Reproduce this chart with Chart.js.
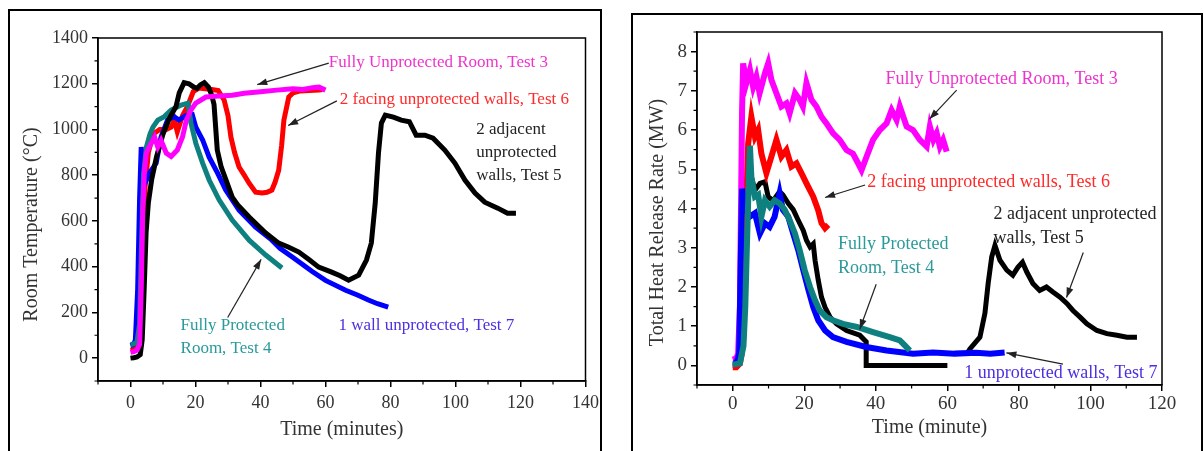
<!DOCTYPE html>
<html><head><meta charset="utf-8">
<script src="https://cdn.jsdelivr.net/npm/chart.js@4.4.0/dist/chart.umd.min.js"></script>
<style>
body{margin:0;background:#fff;width:1204px;height:451px;overflow:hidden;position:relative;font-family:"Liberation Serif",serif}
.frame{position:absolute;border:2px solid #000;box-sizing:border-box}
#f1{left:8px;top:9px;width:594px;height:470px}
#f2{left:631px;top:13px;width:572px;height:470px}
#c1{position:absolute;left:0;top:0;width:604px;height:451px}
#c2{position:absolute;left:604px;top:0;width:600px;height:451px}
</style></head><body>
<div class="frame" id="f1"></div><div class="frame" id="f2"></div>
<canvas id="c1" width="604" height="451"></canvas>
<canvas id="c2" width="600" height="451"></canvas>
<script>
// ---------- LEFT PANEL: Room temperature (°C) vs time (minutes) ----------
const leftXTicks = [0,20,40,60,80,100,120,140];
const leftYTicks = [0,200,400,600,800,1000,1200,1400];

const tempTimeT3 = [0,1,2,2.8,3.3,3.8,4.3,4.9,6,7.4,8.4,9.4,11,12.5,14.4,16,17.2,18.6,20.1,23.2,26,31.3,35,40,45,50,53,56,58,60];
const tempT3     = [25,28,35,60,300,650,820,897,930,967,923,952,897,882,910,967,1041,1085,1115,1142,1145,1150,1158,1165,1172,1178,1175,1182,1185,1172];

const tempTimeT5 = [0,1,2,3,3.6,4.2,4.8,5.5,6.5,8,10,12,14,15,16.5,18,19.5,20.5,21.5,22.7,24,25,25.7,26.7,27.9,29.4,31.3,33,36.5,41.6,45.6,48.7,51.8,55,57.9,61.9,64.5,67.1,70.2,72.6,74.1,75.3,76.3,77.2,78.4,80.9,83.3,85.8,87.9,90.6,93.1,96.7,99.8,102.9,106,109,113,116,118.6];
const tempT5     = [0,2,5,15,80,300,550,680,780,880,980,1050,1100,1160,1205,1200,1185,1180,1195,1205,1185,1150,1110,910,836,779,704,670,617,547,503,485,464,430,398,376,360,341,363,429,503,678,897,1028,1063,1054,1041,1034,975,975,962,910,853,779,722,682,656,634,634];

const tempTimeT6 = [0,1,2,3,3.5,4,4.5,5.5,7,9,11,12.5,13.5,14.4,16,17.5,19.3,21,23,25,27,28.8,30,30.9,32,33.4,35,36.5,38.5,40.5,42,43.5,44.5,45.6,46.5,47.2,48.7,50,52,55,58,59];
const tempT6     = [35,38,42,60,200,500,750,900,980,1000,1000,1010,1040,990,1060,1100,1165,1181,1178,1175,1170,1129,1060,967,900,836,800,765,726,722,725,735,770,822,930,1041,1142,1160,1168,1170,1172,1175];

const tempTimeT7 = [0,1,1.5,2.2,2.8,3.3,3.8,4.3,5.8,7.9,9.4,11.4,13.4,14.9,17,19,20.1,22.2,24.2,26.8,29.3,33.4,38.5,43.5,46,50,55.8,60,66.2,70,73.2,76,79.3];
const tempT7     = [55,60,80,300,700,923,850,760,809,853,967,1041,1056,1041,1060,1065,1010,954,879,809,735,647,573,516,480,440,380,340,297,275,254,238,223];

const tempTimeT4 = [0,1,2,2.8,3.3,4,4.9,6,6.9,8.4,10.4,12.5,15.6,17.7,18.6,20.1,22.2,24.2,27.3,31.3,36.5,41.6,46.6];
const tempT4     = [60,62,70,150,450,800,923,980,1010,1041,1056,1085,1107,1115,1028,940,853,779,691,604,516,451,394];

// ---------- RIGHT PANEL: Total heat release rate (MW) vs time (minute) ----------
const rightXTicks = [0,20,40,60,80,100,120];
const rightYTicks = [0,1,2,3,4,5,6,7,8];

const hrrTimeT3 = [0,1,1.5,2,2.3,2.6,2.9,3.8,4.8,5.7,6.6,7.5,9,9.9,10.8,12.2,13.6,15,15.9,17.4,18.7,19.6,20.6,22,23.4,24.8,26.2,28,29.9,31.8,33.6,35,36,37.4,39.2,41.1,43,44.4,45.8,46.7,48.6,50.4,52.3,54.2,55.1,56.1,57,57.9,58.8,59.8];
const hrrT3     = [0.15,0.18,0.3,1.5,4.0,6.5,7.7,7.2,7.53,7.1,7.36,6.94,7.45,7.7,7.28,6.94,6.6,6.68,6.43,6.94,6.77,6.6,7.2,6.77,6.6,6.34,6.17,5.92,5.75,5.49,5.4,5.16,4.98,5.32,5.75,6.0,6.17,6.51,6.26,6.6,6.09,6.0,5.75,5.58,6.09,5.75,5.92,5.58,5.75,5.45];

const hrrTimeT6 = [0,1,2,2.5,3,3.5,4,4.3,5.2,6.2,7.1,8,9.4,10.8,12.2,13.6,15,16.4,17.8,19.2,20.6,22.5,23.9,24.8,25.8,26.7];
const hrrT6     = [-0.05,-0.05,0.05,0.3,1.0,3.0,4.8,5.66,6.34,5.83,6.0,5.4,4.9,5.32,5.75,5.32,5.49,5.07,5.15,4.9,4.64,4.3,3.95,3.63,3.5,3.58];

const hrrTimeT5 = [0,1,2,2.3,2.5,3,4,5.2,6.2,7.6,9,9.9,11.3,13.1,14,15.5,16.9,18.3,19.7,20.6,21.6,22.5,23,23.9,24.8,25.8,27.2,29,31.8,35.5,37.3,37.3,47,60,60.5,65.5,66.3,69.1,70.5,71.4,72.4,73.3,74.7,76.6,78.3,79.7,81,82.2,83.9,85.8,87.7,89.5,91.5,93.4,95.1,97.1,99,101.8,104.6,107.4,110.2,113];
const hrrT5     = [0,0,0.05,0.5,4.6,4.5,4.3,4.8,4.47,4.64,4.68,4.3,4.2,4.43,4.35,4.13,3.97,3.7,3.44,3.19,3.02,3.1,2.68,2.17,1.74,1.48,1.23,1.06,0.89,0.77,0.6,0,0,0,null,0.3,0.42,0.72,1.33,2.09,2.77,3.06,2.68,2.43,2.3,2.5,2.63,2.38,2.09,1.91,2.0,1.87,1.74,1.58,1.4,1.23,1.06,0.89,0.81,0.77,0.72,0.72];

const hrrTimeT7 = [0,1,1.8,2.2,2.6,3,3.8,4.7,6.2,7.6,9,10.3,11.7,13.1,14,15.5,16.9,18.3,19.7,21.2,22.5,23.9,25.8,28,31.8,37.3,43,50.4,56,62,68,72,76];
const hrrT7     = [0.05,0.05,0.3,2.5,4.5,4.3,3.97,3.79,3.88,3.36,3.62,3.53,3.79,4.39,3.97,3.79,3.36,2.94,2.43,1.91,1.49,1.15,0.89,0.72,0.6,0.47,0.38,0.3,0.33,0.3,0.32,0.3,0.33];

const hrrTimeT4 = [0,2,3,3.5,4,4.5,4.8,5.2,6.2,7.1,8,9,10.3,11.7,13.1,14.5,15.9,17.4,18.7,20.1,21.6,23,24.3,26.2,28,30.8,34.7,39.2,43.9,46.7,48.1,49.5];
const hrrT4     = [0.02,0.05,0.5,1.5,3.2,4.8,5.6,4.8,4.3,4.35,3.79,4.21,4.05,4.21,4.13,3.97,3.7,3.36,2.94,2.43,2.0,1.66,1.4,1.23,1.15,1.06,0.98,0.85,0.72,0.64,0.51,0.38];

// ---------- Annotation texts (data coordinates) ----------
const leftNotes = [
  {lines:['Fully Unprotected Room, Test 3'], t:61, v:1294, color:'#ee33cc'},
  {lines:['2 facing unprotected walls, Test 6'], t:64.4, v:1131, color:'#ff2a2a'},
  {lines:['2 adjacent','unprotected','walls, Test 5'], t:106.4, v:1000, color:'#222'},
  {lines:['Fully Protected','Room, Test 4'], t:15.4, v:141, color:'#2a9a9a'},
  {lines:['1 wall unprotected, Test 7'], t:64, v:141, color:'#4a30e0'}
];
const leftArrows = [[61,1290,39,1196],[63.5,1125,48.5,1017],[29.9,178,40.2,432]];
const rightNotes = [
  {lines:['Fully Unprotected Room, Test 3'], t:42.7, v:7.3, color:'#ee33cc'},
  {lines:['2 facing unprotected walls, Test 6'], t:37.6, v:4.66, color:'#ff2a2a'},
  {lines:['2 adjacent unprotected','walls, Test 5'], t:72.9, v:3.86, color:'#222'},
  {lines:['Fully Protected','Room, Test 4'], t:29.4, v:3.09, color:'#2a9a9a'},
  {lines:['1 unprotected walls, Test 7'], t:64.7, v:-0.19, color:'#4a30e0'}
];
const rightArrows = [[62.6,7.02,55,6.28],[37,4.6,25.8,4.28],[98,2.88,93.3,1.73],[40.1,2.07,35.5,0.92],[92.3,0.03,76.5,0.32]];

const FONT = 'Liberation Serif';

function pts(xs, ys){ return xs.map((x,i)=>({x:x, y:ys[i]})); }

function arrow(ctx,x1,y1,x2,y2){
  ctx.beginPath(); ctx.moveTo(x1,y1); ctx.lineTo(x2,y2); ctx.stroke();
  const a = Math.atan2(y2-y1,x2-x1), L=10, W=3.5;
  ctx.beginPath(); ctx.moveTo(x2,y2);
  ctx.lineTo(x2-L*Math.cos(a)+W*Math.sin(a), y2-L*Math.sin(a)-W*Math.cos(a));
  ctx.lineTo(x2-L*Math.cos(a)-W*Math.sin(a), y2-L*Math.sin(a)+W*Math.cos(a));
  ctx.closePath(); ctx.fill();
}

function decor(notes, arrows, minorX, minorY, noteSize, lineGap, yTitle, yTitleX, yTitleShift){
  return {
    id:'decor',
    afterDraw(chart){
      const {ctx, chartArea:a, scales:{x, y}} = chart;
      ctx.save();
      ctx.strokeStyle = '#000'; ctx.lineWidth = 1.5;
      ctx.strokeRect(a.left, a.top, a.right-a.left, a.bottom-a.top);
      ctx.lineWidth = 1.2;
      ctx.beginPath();
      minorX.forEach(v=>{ const p=x.getPixelForValue(v); ctx.moveTo(p,a.bottom); ctx.lineTo(p,a.bottom+3.5); });
      minorY.forEach(v=>{ const p=y.getPixelForValue(v); ctx.moveTo(a.left,p); ctx.lineTo(a.left-3.5,p); });
      ctx.stroke();
      ctx.strokeStyle = '#222'; ctx.fillStyle = '#222'; ctx.lineWidth = 1.2;
      arrows.forEach(r=>arrow(ctx, x.getPixelForValue(r[0]), y.getPixelForValue(r[1]), x.getPixelForValue(r[2]), y.getPixelForValue(r[3])));
      ctx.font = noteSize+'px "'+FONT+'"';
      ctx.textAlign = 'left'; ctx.textBaseline = 'middle';
      notes.forEach(n=>{
        ctx.fillStyle = n.color;
        const px = x.getPixelForValue(n.t), py = y.getPixelForValue(n.v);
        n.lines.forEach((s,i)=>ctx.fillText(s, px, py + i*lineGap));
      });
      // y-axis title (rotated), centred slightly below the axis middle as in the original
      ctx.save();
      ctx.translate(yTitleX, (a.top + a.bottom)/2 + yTitleShift);
      ctx.rotate(-Math.PI/2);
      ctx.font = '20px "'+FONT+'"';
      ctx.fillStyle = '#333'; ctx.textAlign = 'center'; ctx.textBaseline = 'middle';
      ctx.fillText(yTitle, 0, 0);
      ctx.restore();
      ctx.restore();
    }
  };
}

function ds(xs, ys, color, w){
  return {data: pts(xs, ys), borderColor: color, backgroundColor: color, borderWidth: w,
          pointRadius: 0, tension: 0, fill: false, spanGaps: false};
}

function scaleX(min, max, ticks, title, tickSize, tickPad, h, titlePad){
  return {type:'linear', min:min, max:max,
    afterBuildTicks: s=>{ s.ticks = ticks.map(v=>({value:v})); },
    afterFit: s=>{ s.height = h; },
    grid:{drawOnChartArea:false, drawTicks:true, tickLength:6, color:'#000', lineWidth:1.5},
    border:{display:true, color:'#000', width:1.5},
    ticks:{font:{family:FONT, size:tickSize}, color:'#333', padding:tickPad, maxRotation:0, autoSkip:false,
           callback: v => String(v)},
    title:{display:true, text:title, font:{family:FONT, size:20}, color:'#333', padding:{top:0,bottom:titlePad}}
  };
}
function scaleY(min, max, ticks, tickSize, w){
  return {type:'linear', min:min, max:max,
    afterBuildTicks: s=>{ s.ticks = ticks.map(v=>({value:v})); },
    afterFit: s=>{ s.width = w; },
    grid:{drawOnChartArea:false, drawTicks:true, tickLength:6, color:'#000', lineWidth:1.5},
    border:{display:true, color:'#000', width:1.5},
    ticks:{font:{family:FONT, size:tickSize}, color:'#333', padding:4, autoSkip:false,
           callback: v => String(v)},
    title:{display:false}
  };
}

const common = {responsive:false, animation:false, devicePixelRatio:1,
  plugins:{legend:{display:false}, tooltip:{enabled:false}}};

new Chart(document.getElementById('c1'), {
  type:'line',
  data:{datasets:[
    ds(tempTimeT3, tempT3, '#ff00ff', 5),
    ds(tempTimeT5, tempT5, '#000000', 5),
    ds(tempTimeT4, tempT4, '#0e8080', 5),
    ds(tempTimeT7, tempT7, '#0000ff', 5),
    ds(tempTimeT6, tempT6, '#ff0000', 5)
  ]},
  options:Object.assign({}, common, {
    layout:{padding:{left:0, top:38, right:16, bottom:0}},
    scales:{
      x: scaleX(-10, 140, leftXTicks, 'Time (minutes)', 18, 5, 70, 9),
      y: scaleY(-100, 1400, leftYTicks, 18, 98)
    }
  }),
  plugins:[decor(leftNotes, leftArrows,
    [-10,10,30,50,70,90,110,130], [-100,100,300,500,700,900,1100,1300], 17, 23,
    'Room Temperature (°C)', 32, 15)]
});

new Chart(document.getElementById('c2'), {
  type:'line',
  data:{datasets:[
    ds(hrrTimeT4, hrrT4, '#0e8080', 6),
    ds(hrrTimeT7, hrrT7, '#0000ff', 6),
    ds(hrrTimeT3, hrrT3, '#ff00ff', 6),
    ds(hrrTimeT6, hrrT6, '#ff0000', 6),
    ds(hrrTimeT5, hrrT5, '#000000', 5)
  ]},
  options:Object.assign({}, common, {
    layout:{padding:{left:0, top:32, right:42, bottom:0}},
    scales:{
      x: scaleX(-10, 120, rightXTicks, 'Time (minute)', 19, 2, 66, 11),
      y: scaleY(-0.5, 8.5, rightYTicks, 19, 93)
    }
  }),
  plugins:[decor(rightNotes, rightArrows,
    [-10,10,30,50,70,90,110], [-0.5,0.5,1.5,2.5,3.5,4.5,5.5,6.5,7.5,8.5], 18, 24,
    'Total Heat Release Rate (MW)', 54, 14)]
});
</script>
</body></html>
